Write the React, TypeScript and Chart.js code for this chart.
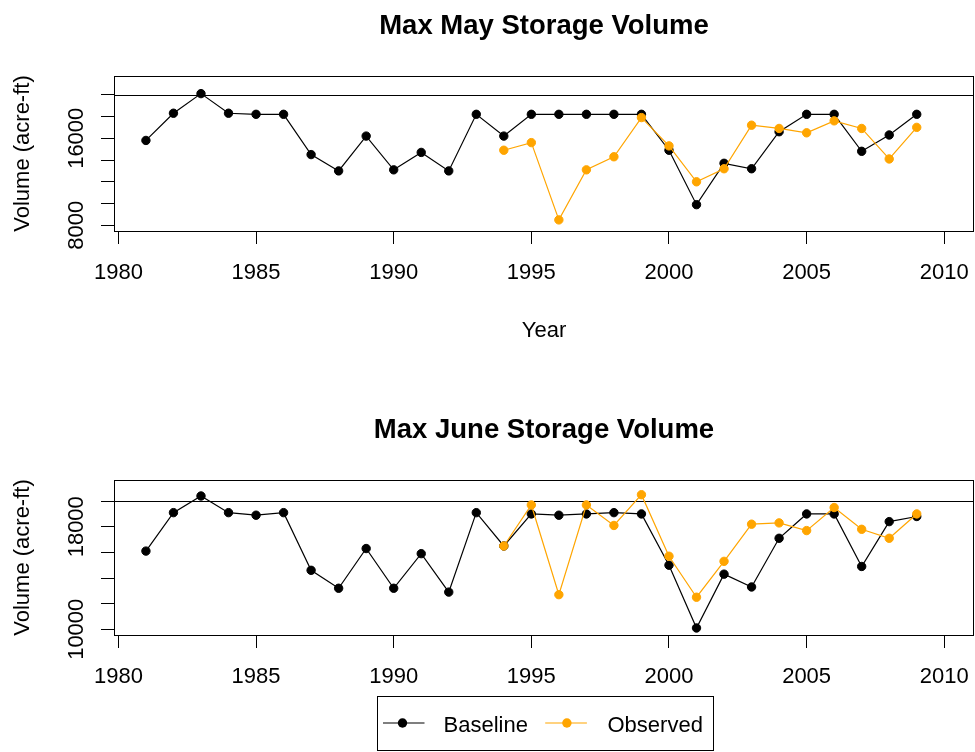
import React, { useEffect, useRef } from "react";
import { Chart, registerables } from "chart.js";

Chart.register(...registerables);

const FONT = "'Liberation Sans', Arial, Helvetica, sans-serif";

// ---- data ----
const years = [
  1981, 1982, 1983, 1984, 1985, 1986, 1987, 1988, 1989, 1990,
  1991, 1992, 1993, 1994, 1995, 1996, 1997, 1998, 1999, 2000,
  2001, 2002, 2003, 2004, 2005, 2006, 2007, 2008, 2009,
];

const mayBaseline = [
  15800, 18300, 20100, 18300, 18200, 18200, 14500, 13000, 16200, 13100,
  14700, 13000, 18200, 16200, 18200, 18200, 18200, 18200, 18200, 14900,
  9900, 13700, 13200, 16600, 18200, 18200, 14800, 16300, 18200,
];
const mayObserved = [
  null, null, null, null, null, null, null, null, null, null,
  null, null, null, 14900, 15600, 8500, 13100, 14300, 17900, 15300,
  12000, 13200, 17200, 16900, 16500, 17600, 16900, 14100, 17000,
];

const juneBaseline = [
  16100, 19100, 20400, 19100, 18900, 19100, 14600, 13200, 16300, 13200,
  15900, 12900, 19100, 16500, 19000, 18900, 19000, 19100, 19000, 15000,
  10100, 14300, 13300, 17100, 19000, 19000, 14900, 18400, 18800,
];
const juneObserved = [
  null, null, null, null, null, null, null, null, null, null,
  null, null, null, 16500, 19700, 12700, 19700, 18100, 20500, 15700,
  12500, 15300, 18200, 18300, 17700, 19500, 17800, 17100, 19000,
];

const capacity = 20000;
const xRange = [1979.84, 2011.08];
const xTicks = [1980, 1985, 1990, 1995, 2000, 2005, 2010];
const mayYRange = [7480, 21720];
const juneYRange = [9552, 21648];
const mayYTicks = [8000, 10000, 12000, 14000, 16000, 18000, 20000];
const juneYTicks = [10000, 12000, 14000, 16000, 18000, 20000];
const mayYLabels = [8000, 16000];
const juneYLabels = [10000, 18000];
const seriesNames = ["Baseline", "Observed"];
const seriesColors = ["#000000", "#FFA500"];
const titles = ["Max May Storage Volume", "Max June Storage Volume"];
const xTitle = "Year";
const yTitle = "Volume (acre-ft)";

type Spec = {
  title: string;
  baseline: (number | null)[];
  observed: (number | null)[];
  yRange: number[];
  yTicks: number[];
  yLabels: number[];
  areaTop: number;
  xAxisHeight: number;
  showXTitle: boolean;
  showLegend: boolean;
};

function makeDecor(spec: Spec) {
  return {
    id: "decor",
    beforeDatasetsDraw(chart: any) {
      const { ctx, chartArea: a } = chart;
      const py = Math.round(chart.scales.y.getPixelForValue(capacity)) + 0.5;
      ctx.save();
      ctx.strokeStyle = "#000";
      ctx.lineWidth = 1;
      ctx.beginPath();
      ctx.moveTo(a.left, py);
      ctx.lineTo(a.right, py);
      ctx.stroke();
      ctx.restore();
    },
    afterDraw(chart: any) {
      const { ctx, chartArea: a } = chart;
      const ys = chart.scales.y;
      const cx = (a.left + a.right) / 2;
      ctx.save();
      ctx.strokeStyle = "#000";
      ctx.fillStyle = "#000";
      ctx.lineWidth = 1;
      // box
      const l = Math.round(a.left) + 0.5;
      const t = Math.round(a.top) + 0.5;
      const r = Math.round(a.right) - 0.5;
      const b = Math.round(a.bottom) + 0.5;
      ctx.strokeRect(l, t, r - l, b - t);

      // title
      ctx.font = `bold 27.5px ${FONT}`;
      ctx.textAlign = "center";
      ctx.textBaseline = "alphabetic";
      ctx.fillText(spec.title, cx, a.top - 42.5);

      // y tick labels (rotated, parallel to axis)
      ctx.font = `22px ${FONT}`;
      for (const v of spec.yLabels) {
        const py = ys.getPixelForValue(v);
        ctx.save();
        ctx.translate(a.left - 31, py);
        ctx.rotate(-Math.PI / 2);
        ctx.textAlign = "center";
        ctx.fillText(String(v), 0, 0);
        ctx.restore();
      }

      // y title
      ctx.save();
      ctx.translate(a.left - 85.3, (a.top + a.bottom) / 2);
      ctx.rotate(-Math.PI / 2);
      ctx.textAlign = "center";
      ctx.fillText(yTitle, 0, 0);
      ctx.restore();

      // x title
      if (spec.showXTitle) {
        ctx.textAlign = "center";
        ctx.fillText(xTitle, cx, a.bottom + 105.5);
      }

      // legend
      if (spec.showLegend) {
        const left = Math.round(cx - 167) + 0.5;
        const top = Math.round(a.bottom + 61) + 0.5;
        ctx.strokeRect(left, top, 336, 54);
        const rowY = top + 26.5;
        const items = [
          { x0: 5.5, x1: 47, p: 25, tx: 66 },
          { x0: 167.7, x1: 209.4, p: 189.4, tx: 230 },
        ];
        items.forEach((it, i) => {
          ctx.strokeStyle = seriesColors[i];
          ctx.fillStyle = seriesColors[i];
          ctx.lineWidth = 1.2;
          ctx.beginPath();
          ctx.moveTo(left + it.x0, rowY);
          ctx.lineTo(left + it.x1, rowY);
          ctx.stroke();
          ctx.beginPath();
          ctx.arc(left + it.p, rowY, 4.7, 0, Math.PI * 2);
          ctx.fill();
          ctx.fillStyle = "#000";
          ctx.textAlign = "left";
          ctx.fillText(seriesNames[i], left + it.tx, rowY + 9);
        });
      }
      ctx.restore();
    },
  };
}

function buildChart(canvas: HTMLCanvasElement, spec: Spec) {
  const toPts = (arr: (number | null)[]) =>
    years.map((x, i) => ({ x, y: arr[i] }));
  const ds = (name: string, arr: (number | null)[], color: string, order: number) => ({
    label: name,
    data: toPts(arr),
    borderColor: color,
    backgroundColor: color,
    pointBackgroundColor: color,
    pointBorderColor: color,
    borderWidth: 1.2,
    pointRadius: 4.2,
    pointBorderWidth: 1,
    pointHoverRadius: 4.2,
    tension: 0,
    spanGaps: false,
    order,
  });
  return new Chart(canvas, {
    type: "line",
    data: {
      datasets: [
        ds(seriesNames[0], spec.baseline, seriesColors[0], 1),
        ds(seriesNames[1], spec.observed, seriesColors[1], 0),
      ],
    },
    options: {
      animation: false,
      responsive: false,
      events: [],
      layout: {
        autoPadding: false,
        padding: { left: 0, top: spec.areaTop, right: 1, bottom: 0 },
      },
      plugins: {
        legend: { display: false },
        title: { display: false },
        tooltip: { enabled: false },
      },
      scales: {
        x: {
          type: "linear",
          min: xRange[0],
          max: xRange[1],
          border: { display: false },
          grid: {
            drawOnChartArea: false,
            drawTicks: true,
            tickLength: 13,
            color: "#000",
            lineWidth: 1,
          },
          ticks: {
            autoSkip: false,
            maxRotation: 0,
            minRotation: 0,
            padding: 0,
            color: "#000",
            font: { family: FONT, size: 22, lineHeight: 2.655 },
            callback: (v: any) => String(v),
          },
          afterBuildTicks: (scale: any) => {
            scale.ticks = xTicks.map((value) => ({ value }));
          },
          afterFit: (scale: any) => {
            scale.height = spec.xAxisHeight;
            scale.paddingLeft = 0;
            scale.paddingRight = 0;
          },
        },
        y: {
          type: "linear",
          min: spec.yRange[0],
          max: spec.yRange[1],
          border: { display: false },
          grid: {
            drawOnChartArea: false,
            drawTicks: true,
            tickLength: 13,
            color: "#000",
            lineWidth: 1,
          },
          ticks: { display: false },
          afterBuildTicks: (scale: any) => {
            scale.ticks = spec.yTicks.map((value) => ({ value }));
          },
          afterFit: (scale: any) => {
            scale.width = 114;
            scale.paddingTop = 0;
            scale.paddingBottom = 0;
          },
        },
      },
    } as any,
    plugins: [makeDecor(spec)],
  } as any);
}

export default function App() {
  const topRef = useRef<HTMLCanvasElement>(null);
  const botRef = useRef<HTMLCanvasElement>(null);

  useEffect(() => {
    const c1 = buildChart(topRef.current!, {
      title: titles[0],
      baseline: mayBaseline,
      observed: mayObserved,
      yRange: mayYRange,
      yTicks: mayYTicks,
      yLabels: mayYLabels,
      areaTop: 76,
      xAxisHeight: 145,
      showXTitle: true,
      showLegend: false,
    });
    const c2 = buildChart(botRef.current!, {
      title: titles[1],
      baseline: juneBaseline,
      observed: juneObserved,
      yRange: juneYRange,
      yTicks: juneYTicks,
      yLabels: juneYLabels,
      areaTop: 104,
      xAxisHeight: 117,
      showXTitle: false,
      showLegend: true,
    });
    return () => {
      c1.destroy();
      c2.destroy();
    };
  }, []);

  return (
    <div
      style={{
        position: "absolute",
        left: 0,
        top: 0,
        width: 975,
        height: 752,
        background: "#fff",
      }}
    >
      <canvas
        ref={topRef}
        width={975}
        height={376}
        style={{ display: "block", width: 975, height: 376 }}
      />
      <canvas
        ref={botRef}
        width={975}
        height={376}
        style={{ display: "block", width: 975, height: 376 }}
      />
    </div>
  );
}
